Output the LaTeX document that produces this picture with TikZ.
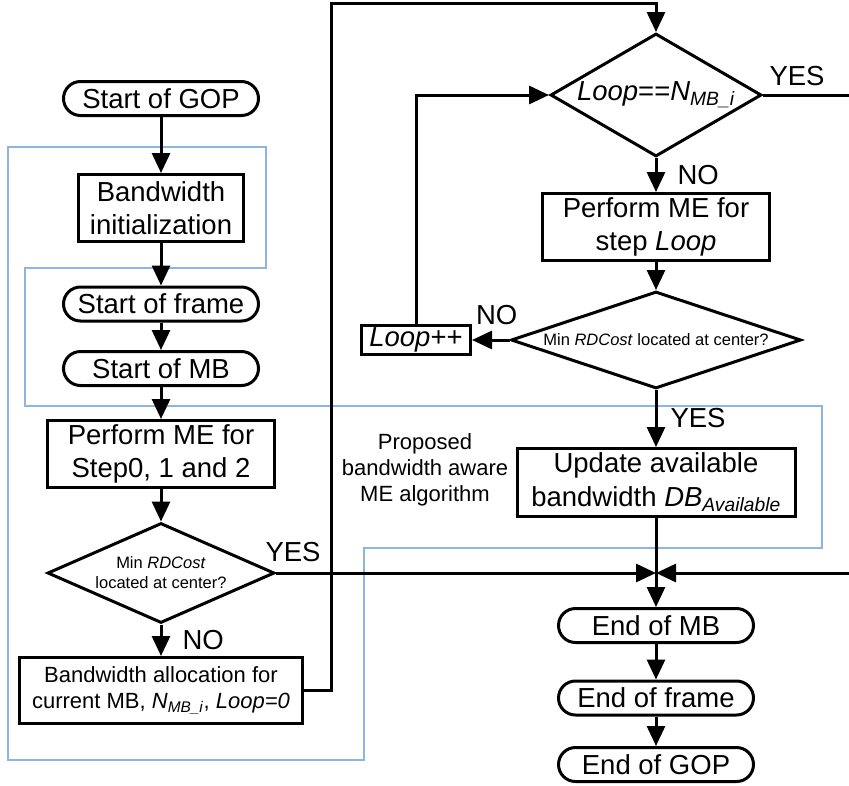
\documentclass[tikz,border=0pt]{standalone}
\usepackage{fontspec}
\setmainfont{Liberation Sans}
\usetikzlibrary{arrows.meta,positioning,shapes.geometric}
\definecolor{ink}{HTML}{000000}
\definecolor{zonec}{HTML}{8DB4E2}
\newcommand{\bigtxt}{\fontsize{27.5pt}{33.5pt}\selectfont}
\newcommand{\midtxt}{\fontsize{22pt}{26pt}\selectfont}
\newcommand{\smalltxt}{\fontsize{16.5pt}{20pt}\selectfont}
\tikzset{
  term/.style={rectangle, rounded corners=17pt, draw=ink, line width=3pt, fill=white,
               align=center, font=\bigtxt, inner sep=0pt, minimum width=195pt, minimum height=34pt},
  proc/.style={rectangle, draw=ink, line width=3pt, fill=white, align=center,
               font=\bigtxt, inner sep=0pt},
  gate/.style={diamond, draw=ink, line width=3pt, fill=white, align=center,
               font=\smalltxt, inner sep=-3pt},
  fl/.style={-{Triangle[length=20pt,width=18pt]}, draw=ink, line width=3pt},
  ln/.style={draw=ink, line width=3pt},
  lbl/.style={font=\bigtxt, inner sep=2pt},
  zone/.style={draw=zonec, line width=2pt}
}

\begin{document}
\begin{tikzpicture}[x=1pt, y=-1pt]
  \useasboundingbox (0,0) rectangle (849,785);
  % blue frame of the proposed algorithm
  \draw[zone] (8,147) -- (266,147) -- (266,268) -- (25,268) -- (25,406) -- (822,406)
    -- (822,548) -- (364,548) -- (364,760) -- (8,760) -- cycle;
  \node[font=\midtxt, align=center] (prop) at (425,470) {Proposed\\bandwidth aware\\ME algorithm};

  % left column
  \node[term] (gop) at (161,98.5) {Start of GOP};
  \node[proc, minimum width=165pt, minimum height=67pt] (bwinit) at (161,208) {Bandwidth\\initialization};
  \node[term] (sframe) at (161,304) {Start of frame};
  \node[term] (smb) at (161,368.5) {Start of MB};
  \node[proc, minimum width=227pt, minimum height=67pt] (me012) at (161,454) {Perform ME for\\Step0, 1 and 2};
  \node[gate, minimum width=227pt, minimum height=100pt, aspect=2.27] (dia1) at (161,573)
    {Min \textit{RDCost}\\located at center?};
  \node[proc, font=\midtxt, minimum width=283pt, minimum height=66pt] (alloc) at (161,690.5)
    {Bandwidth allocation for\\current MB, \textit{N}\textsubscript{\textit{MB\_i}}, \textit{Loop=0}};

  % right column
  \node[gate, font=\bigtxt, minimum width=211pt, minimum height=123pt, aspect=1.72] (dia2) at (656,95)
    {\textit{Loop}==\textit{N}\textsubscript{\textit{MB\_i}}};
  \node[proc, minimum width=227pt, minimum height=67pt] (meloop) at (656,227) {Perform ME for\\step \textit{Loop}};
  \node[gate, minimum width=290pt, minimum height=97pt, aspect=2.99] (dia3) at (656,340)
    {Min \textit{RDCost} located at center?};
  \node[proc, minimum width=109pt, minimum height=29pt] (loopinc) at (416,340) {\textit{Loop}++};
  \node[proc, minimum width=278pt, minimum height=68pt] (update) at (656,482.5)
    {Update available\\bandwidth \textit{DB}\textsubscript{\textit{Available}}};
  \node[term] (emb) at (656,625.5) {End of MB};
  \node[term] (eframe) at (656,698) {End of frame};
  \node[term] (egop) at (656,764.5) {End of GOP};

  \coordinate (upl) at (331,3);
  \coordinate (jn) at (656,573);
  \coordinate (yesout) at (849,95);
  \coordinate (rin) at (849,573);

  % connectors
  \draw[fl] (gop) -- (bwinit);
  \draw[fl] (bwinit) -- (sframe);
  \draw[fl] (sframe) -- (smb);
  \draw[fl] (smb) -- (me012);
  \draw[fl] (me012) -- (dia1);
  \draw[fl] (dia1.south) -- node[lbl, right=18pt]{NO} (alloc.north);
  \draw[fl] (alloc.east) -| (upl) -| (dia2.north);
  \draw[fl] (dia2.south) -- node[lbl, right=18pt]{NO} (meloop.north);
  \draw[ln] (dia2.east) -- node[lbl, pos=0, above right, xshift=3pt, yshift=6pt]{YES} (yesout);
  \draw[fl] (meloop) -- (dia3);
  \draw[fl] (dia3.west) -- node[lbl, above=12pt, xshift=6pt]{NO} (loopinc.east);
  \draw[fl] (loopinc.north) |- (dia2.west);
  \draw[fl] (dia3.south) -- node[lbl, right=11pt]{YES} (update.north);
  \draw[fl] (update.south) -- (emb.north);
  \draw[fl] (dia1.east) -- node[lbl, pos=0, above right, xshift=-14pt, yshift=8pt]{YES} (jn);
  \draw[fl] (rin) -- (jn);
  \draw[fl] (emb) -- (eframe);
  \draw[fl] (eframe) -- (egop);
\end{tikzpicture}
\end{document}
